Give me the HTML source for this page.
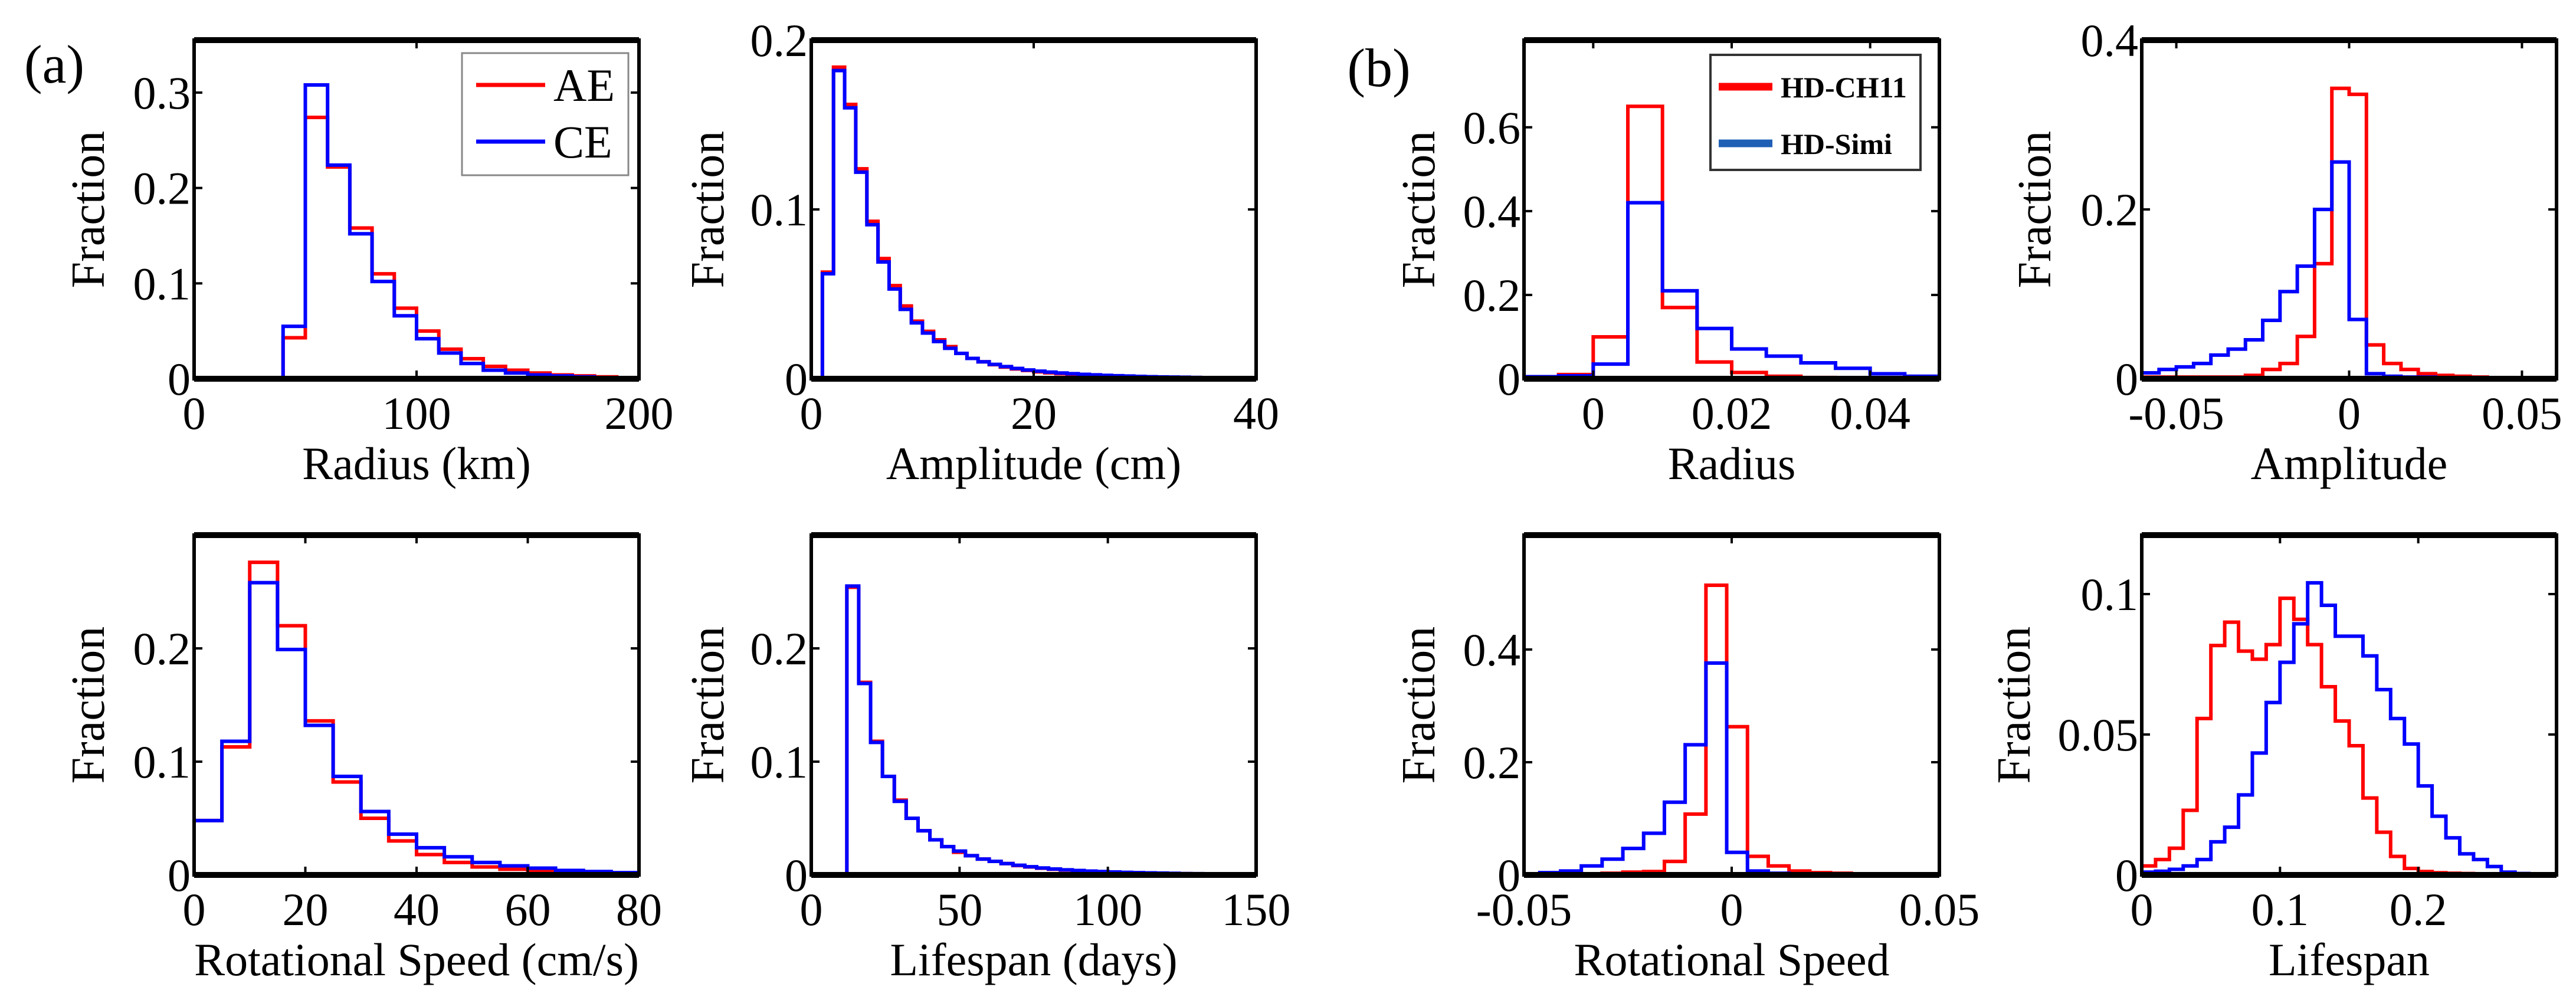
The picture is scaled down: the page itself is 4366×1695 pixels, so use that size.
<!DOCTYPE html>
<html><head><meta charset="utf-8"><style>
html,body{margin:0;padding:0;background:#fff;}
svg{display:block;}
svg text{font-family:"Liberation Serif","DejaVu Serif",serif !important;}
</style></head><body>
<svg id="fig" width="4366" height="1695" viewBox="0 0 4366 1695" xmlns="http://www.w3.org/2000/svg" style="font-family:'Liberation Serif',serif">
<rect width="4366" height="1695" fill="#fff"/>
<text x="92" y="140" font-size="92" text-anchor="middle" style="font-family:'Liberation Serif',serif">(a)</text>
<text x="2337" y="146" font-size="92" text-anchor="middle" style="font-family:'Liberation Serif',serif">(b)</text>
</svg>
<script>
// ---- data (bin starts, bin widths, fractions) ----
const p1Start=40, p1Width=10;
const p1AE=[0.043,0.274,0.222,0.158,0.110,0.074,0.050,0.031,0.021,0.013,0.009,0.006,0.004,0.003,0.002,0.001];
const p1CE=[0.055,0.308,0.224,0.152,0.102,0.066,0.042,0.027,0.016,0.009,0.006,0.004,0.003,0.002,0.001,0.001];
const p2Start=1, p2Width=1;
const p2AE=[0.063,0.184,0.162,0.124,0.093,0.071,0.055,0.043,0.034,0.028,0.023,0.019,0.015,0.012,0.010,0.0083,0.0069,0.0058,0.0049,0.0041,0.0035,0.003,0.0026,0.0022,0.0019,0.0017,0.0015,0.0013,0.0011,0.001,0.0009,0.0008,0.0007,0.0006,0.0005,0.0005,0.0004,0.0004,0.0003];
const p2CE=[0.062,0.182,0.160,0.122,0.091,0.069,0.053,0.041,0.033,0.027,0.022,0.018,0.015,0.012,0.010,0.0085,0.0072,0.0061,0.0052,0.0045,0.0039,0.0034,0.003,0.0026,0.0023,0.002,0.0018,0.0016,0.0014,0.0012,0.0011,0.001,0.0009,0.0008,0.0007,0.0006,0.0006,0.0005,0.0005];
const p3Start=-0.01, p3Width=0.005;
const p3CH11=[0.005,0.01,0.10,0.65,0.17,0.04,0.015,0.006,0.003,0.002,0.001,0.001];
const p3Simi=[0.005,0.007,0.035,0.42,0.21,0.12,0.071,0.054,0.038,0.025,0.012,0.006];
const p4Start=-0.06, p4Width=0.005;
const p4CH11=[0.002,0.002,0.002,0.002,0.002,0.002,0.004,0.011,0.018,0.05,0.136,0.343,0.336,0.04,0.018,0.011,0.006,0.004,0.003,0.002,0.001,0.001,0.001,0.001];
const p4Simi=[0.007,0.011,0.014,0.018,0.028,0.035,0.046,0.069,0.103,0.133,0.20,0.256,0.07,0.006,0.003,0.002,0.002,0.001,0.001,0.001,0.001,0.001,0.001,0.001];
const p5Start=0, p5Width=5;
const p5AE=[0.048,0.113,0.276,0.220,0.136,0.082,0.050,0.030,0.018,0.011,0.007,0.005,0.003,0.002,0.001,0.001];
const p5CE=[0.048,0.118,0.258,0.199,0.132,0.087,0.056,0.036,0.024,0.016,0.011,0.008,0.006,0.004,0.003,0.002];
const p6Start=12, p6Width=4;
const p6AE=[0.254,0.170,0.118,0.087,0.066,0.050,0.039,0.031,0.025,0.020,0.017,0.014,0.012,0.010,0.0083,0.0070,0.0059,0.0050,0.0043,0.0037,0.0032,0.0028,0.0024,0.0021,0.0019,0.0017,0.0015,0.0013,0.0011,0.001,0.0009,0.0008,0.0007,0.0006];
const p6CE=[0.255,0.169,0.117,0.087,0.065,0.050,0.039,0.031,0.025,0.021,0.017,0.014,0.012,0.010,0.0085,0.0072,0.0061,0.0052,0.0045,0.0039,0.0034,0.003,0.0026,0.0023,0.002,0.0018,0.0016,0.0014,0.0012,0.0011,0.001,0.0009,0.0008,0.0007];
const p7Start=-0.0512, p7Width=0.005;
const p7CH11=[0.001,0.001,0.001,0.002,0.003,0.005,0.006,0.024,0.108,0.514,0.263,0.033,0.016,0.007,0.004,0.003,0.002,0.002,0.001,0.001];
const p7Simi=[0.002,0.004,0.007,0.016,0.028,0.047,0.074,0.129,0.231,0.376,0.040,0.007,0.003,0.002,0.002,0.001,0.001,0.001,0.001,0.001];
const p8Start=0, p8Width=0.01;
const p8CH11=[0.0032,0.0055,0.0095,0.023,0.0557,0.0817,0.090,0.0797,0.0768,0.082,0.0985,0.091,0.082,0.067,0.0548,0.046,0.0274,0.0152,0.0066,0.0023,0.0012,0.0008,0.0006,0.0005,0.0004,0.0003,0.0002,0.0001,0,0];
const p8Simi=[0.001,0.0013,0.002,0.0032,0.0055,0.0118,0.017,0.0285,0.0434,0.0614,0.0757,0.0894,0.104,0.096,0.085,0.085,0.078,0.066,0.0557,0.0466,0.0317,0.0209,0.0132,0.0075,0.0055,0.003,0.001,0.0005,0,0];
// tick values / labels
const p1XTicks=[0,100,200], p1XLabels=['0','100','200'], p1YTicks=[0,0.1,0.2,0.3], p1YLabels=['0','0.1','0.2','0.3'];
const p2XTicks=[0,20,40], p2XLabels=['0','20','40'], p2YTicks=[0,0.1,0.2], p2YLabels=['0','0.1','0.2'];
const p3XTicks=[0,0.02,0.04], p3XLabels=['0','0.02','0.04'], p3YTicks=[0,0.2,0.4,0.6], p3YLabels=['0','0.2','0.4','0.6'];
const p4XTicks=[-0.05,0,0.05], p4XLabels=['-0.05','0','0.05'], p4YTicks=[0,0.2,0.4], p4YLabels=['0','0.2','0.4'];
const p5XTicks=[0,20,40,60,80], p5XLabels=['0','20','40','60','80'], p5YTicks=[0,0.1,0.2], p5YLabels=['0','0.1','0.2'];
const p6XTicks=[0,50,100,150], p6XLabels=['0','50','100','150'], p6YTicks=[0,0.1,0.2], p6YLabels=['0','0.1','0.2'];
const p7XTicks=[-0.05,0,0.05], p7XLabels=['-0.05','0','0.05'], p7YTicks=[0,0.2,0.4], p7YLabels=['0','0.2','0.4'];
const p8XTicks=[0,0.1,0.2], p8XLabels=['0','0.1','0.2'], p8YTicks=[0,0.05,0.1], p8YLabels=['0','0.05','0.1'];

const NS='http://www.w3.org/2000/svg';
const svg=document.getElementById('fig');
function mk(tag,attrs,parent){const e=document.createElementNS(NS,tag);for(const k in attrs)e.setAttribute(k,attrs[k]);if(tag==='text'){e.setAttribute('font-family','Liberation Serif, serif');e.setAttribute('style',"font-family:'Liberation Serif','DejaVu Serif',serif !important");}(parent||svg).appendChild(e);return e;}

function panel(id,L,R,T,B,xmin,xmax,ymax,xt,xl,yt,yl,xlabel,ylOff,series){
  const g=mk('g',{});
  
  
  g.setAttribute('style',"font-family:'Liberation Serif',serif");
  const sx=v=>L+(v-xmin)/(xmax-xmin)*(R-L);
  const sy=v=>B-v/ymax*(B-T);
  const cp=mk('clipPath',{id:id+'-clip'},g);
  mk('rect',{x:L,y:T,width:R-L,height:B-T},cp);
  series.forEach(s=>{
    let d='M'+sx(s.start)+','+sy(0);
    s.vals.forEach((v,i)=>{const x0=sx(s.start+i*s.w),x1=sx(s.start+(i+1)*s.w);d+=' L'+x0+','+sy(v)+' L'+x1+','+sy(v);});
    d+=' L'+sx(s.start+s.vals.length*s.w)+','+sy(0);
    const p=mk('path',{d:d,fill:'none',stroke:s.color,'stroke-width':6,'stroke-linejoin':'miter','clip-path':'url(#'+id+'-clip)'},g);
    
    
  });
  const box=mk('rect',{x:L,y:T,width:R-L,height:B-T,fill:'none',stroke:'#000','stroke-width':6},g);
  
  
  mk('line',{x1:L,x2:R,y1:T,y2:T,stroke:'#000','stroke-width':10},g);
  mk('line',{x1:L,x2:R,y1:B,y2:B,stroke:'#000','stroke-width':10},g);
  xt.forEach((v,i)=>{const x=sx(v);
    mk('line',{x1:x,x2:x,y1:B,y2:B-14,stroke:'#000','stroke-width':4},g);
    mk('line',{x1:x,x2:x,y1:T,y2:T+14,stroke:'#000','stroke-width':4},g);
    const t=mk('text',{x:x,y:B+85,'font-size':78,'text-anchor':'middle'},g);
    
    
    t.textContent=xl[i];});
  yt.forEach((v,i)=>{const y=sy(v);
    mk('line',{x1:L,x2:L+14,y1:y,y2:y,stroke:'#000','stroke-width':4},g);
    mk('line',{x1:R,x2:R-14,y1:y,y2:y,stroke:'#000','stroke-width':4},g);
    const t=mk('text',{x:L-6,y:y+27,'font-size':78,'text-anchor':'end'},g);
    
    
    t.textContent=yl[i];});
  const xa=mk('text',{x:(L+R)/2,y:B+170,'font-size':78,'text-anchor':'middle'},g);
  
  
  xa.textContent=xlabel;
  const cy=(T+B)/2, cx=L-ylOff;
  const ya=mk('text',{x:cx,y:cy+27,'font-size':80,'text-anchor':'middle',transform:'rotate(-90 '+cx+' '+cy+')'},g);
  
  
  ya.textContent='Fraction';
  return g;
}
const RED='#ff0000', BLUE='#0000ff';
panel('panel-radius-km',329,1083,68,642,0,200,0.355,p1XTicks,p1XLabels,p1YTicks,p1YLabels,'Radius (km)',180,
 [{name:'ae-radius-line',start:p1Start,w:p1Width,vals:p1AE,color:RED},{name:'ce-radius-line',start:p1Start,w:p1Width,vals:p1CE,color:BLUE}]);
panel('panel-amplitude-cm',1375,2129,68,642,0,40,0.2,p2XTicks,p2XLabels,p2YTicks,p2YLabels,'Amplitude (cm)',176,
 [{name:'ae-amplitude-line',start:p2Start,w:p2Width,vals:p2AE,color:RED},{name:'ce-amplitude-line',start:p2Start,w:p2Width,vals:p2CE,color:BLUE}]);
panel('panel-radius-diff',2583,3287,68,642,-0.01,0.05,0.808,p3XTicks,p3XLabels,p3YTicks,p3YLabels,'Radius',179,
 [{name:'ch11-radius-line',start:p3Start,w:p3Width,vals:p3CH11,color:RED},{name:'simi-radius-line',start:p3Start,w:p3Width,vals:p3Simi,color:BLUE}]);
panel('panel-amplitude-diff',3630,4333,68,642,-0.06,0.06,0.4,p4XTicks,p4XLabels,p4YTicks,p4YLabels,'Amplitude',182,
 [{name:'ch11-amplitude-line',start:p4Start,w:p4Width,vals:p4CH11,color:RED},{name:'simi-amplitude-line',start:p4Start,w:p4Width,vals:p4Simi,color:BLUE}]);
panel('panel-rotational-speed',329,1083,907,1483,0,80,0.3,p5XTicks,p5XLabels,p5YTicks,p5YLabels,'Rotational Speed (cm/s)',180,
 [{name:'ae-speed-line',start:p5Start,w:p5Width,vals:p5AE,color:RED},{name:'ce-speed-line',start:p5Start,w:p5Width,vals:p5CE,color:BLUE}]);
panel('panel-lifespan-days',1375,2129,907,1483,0,150,0.3,p6XTicks,p6XLabels,p6YTicks,p6YLabels,'Lifespan (days)',176,
 [{name:'ae-lifespan-line',start:p6Start,w:p6Width,vals:p6AE,color:RED},{name:'ce-lifespan-line',start:p6Start,w:p6Width,vals:p6CE,color:BLUE}]);
panel('panel-speed-diff',2583,3287,907,1483,-0.05,0.05,0.603,p7XTicks,p7XLabels,p7YTicks,p7YLabels,'Rotational Speed',179,
 [{name:'ch11-speed-line',start:p7Start,w:p7Width,vals:p7CH11,color:RED},{name:'simi-speed-line',start:p7Start,w:p7Width,vals:p7Simi,color:BLUE}]);
panel('panel-lifespan-diff',3630,4333,907,1483,0,0.3,0.121,p8XTicks,p8XLabels,p8YTicks,p8YLabels,'Lifespan',217,
 [{name:'ch11-lifespan-line',start:p8Start,w:p8Width,vals:p8CH11,color:RED},{name:'simi-lifespan-line',start:p8Start,w:p8Width,vals:p8Simi,color:BLUE}]);

// legends
const lg1=mk('g',{});


mk('rect',{x:783,y:90,width:282,height:207,fill:'#fff',stroke:'#888','stroke-width':3},lg1);
mk('line',{x1:807,x2:924,y1:144,y2:144,stroke:RED,'stroke-width':7},lg1);
mk('line',{x1:807,x2:924,y1:240,y2:240,stroke:BLUE,'stroke-width':7},lg1);
const t1=mk('text',{x:938,y:171,'font-size':78},lg1);


t1.textContent='AE';
const t2=mk('text',{x:938,y:267,'font-size':78},lg1);


t2.textContent='CE';
const lg2=mk('g',{});


mk('rect',{x:2899,y:93,width:356,height:195,fill:'#fff',stroke:'#333','stroke-width':4},lg2);
mk('line',{x1:2913,x2:3004,y1:147,y2:147,stroke:RED,'stroke-width':13},lg2);
mk('line',{x1:2913,x2:3004,y1:243,y2:243,stroke:'#1f5fb5','stroke-width':13},lg2);
const t3=mk('text',{x:3018,y:165,'font-size':50,'font-weight':'bold'},lg2);


t3.textContent='HD-CH11';
const t4=mk('text',{x:3018,y:261,'font-size':50,'font-weight':'bold'},lg2);


t4.textContent='HD-Simi';
</script>
</body></html>
